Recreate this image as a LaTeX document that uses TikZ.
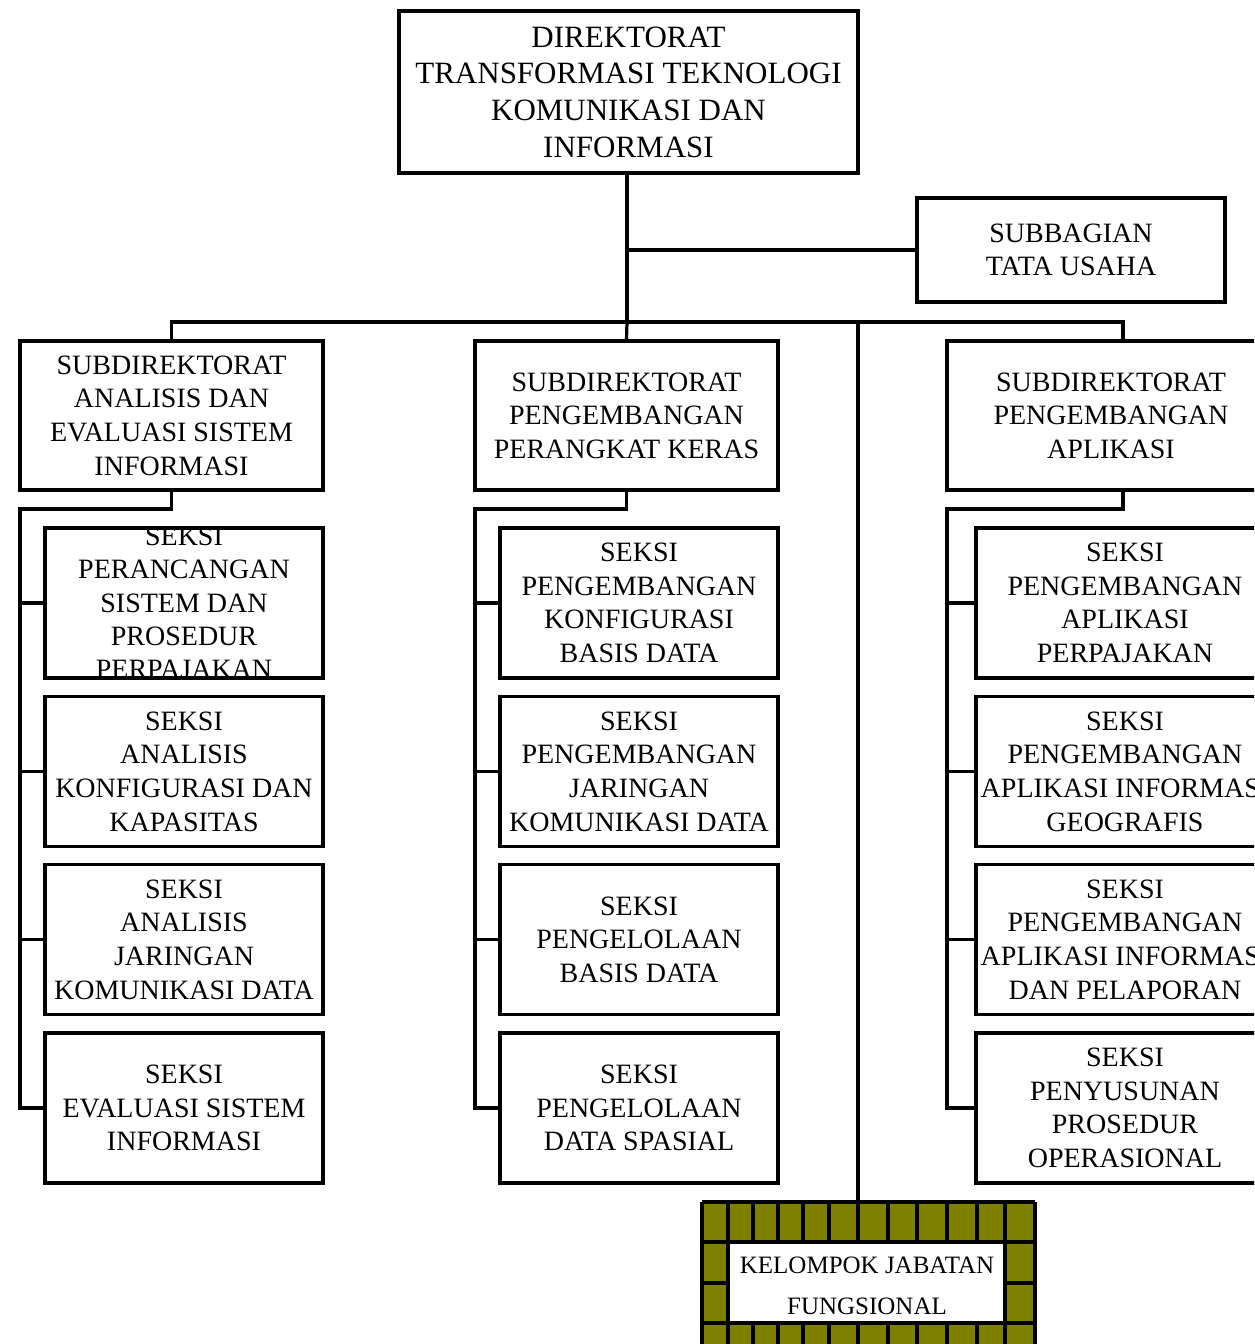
\documentclass[tikz,border=0pt]{standalone}
\usepackage{fontspec}
\setmainfont{Liberation Serif}
\usetikzlibrary{calc}
\definecolor{olive}{HTML}{808000}
\tikzset{
  headbox/.style={draw,line width=3.2pt,minimum width=459pt,minimum height=162pt,inner sep=0pt,align=center,font=\fontsize{31}{36.7}\selectfont},
  unitbox/.style={draw,line width=3.2pt,minimum width=303pt,minimum height=149pt,inner sep=0pt,align=center,font=\fontsize{28}{33.6}\selectfont},
  seksibox/.style={draw,line width=3.2pt,minimum width=278pt,minimum height=150pt,inner sep=0pt,align=center,font=\fontsize{28}{33.6}\selectfont},
  seksitext/.style={inner sep=0pt,align=center,font=\fontsize{28}{33.2}\selectfont},
  conn/.style={line width=3.2pt},
  gridline/.style={line width=3.2pt}
}
\begin{document}
\begin{tikzpicture}[x=1pt,y=-1pt]
\useasboundingbox (0,0) rectangle (1254,1344);
\clip (0,0) rectangle (1254,1344);
% top level
\node[headbox] (dir) at (628.5,92) {DIREKTORAT\\TRANSFORMASI TEKNOLOGI\\KOMUNIKASI DAN\\INFORMASI};
\node[unitbox,minimum width=308pt,minimum height=104pt] (tu) at (1071,250) {SUBBAGIAN\\TATA USAHA};
% subdirektorat
\node[unitbox] (sl) at (171.5,415.5) {SUBDIREKTORAT\\ANALISIS DAN\\EVALUASI SISTEM\\INFORMASI};
\node[unitbox] (sm) at (626.5,415.5) {SUBDIREKTORAT\\PENGEMBANGAN\\PERANGKAT KERAS};
\node[unitbox,minimum width=328pt] (sr) at (1111,415.5) {SUBDIREKTORAT\\PENGEMBANGAN\\APLIKASI};
% seksi, left column
\node[seksibox] (l1) at (184,603) {};
\begin{scope}
\clip (l1.south west) rectangle (l1.north east);
\node[seksitext] at (184,603) {SEKSI\\PERANCANGAN\\SISTEM DAN\\PROSEDUR\\PERPAJAKAN};
\end{scope}
\node[seksibox] (l2) at (184,771.5) {SEKSI\\ANALISIS\\KONFIGURASI DAN\\KAPASITAS};
\node[seksibox] (l3) at (184,939.5) {SEKSI\\ANALISIS\\JARINGAN\\KOMUNIKASI DATA};
\node[seksibox] (l4) at (184,1108) {SEKSI\\EVALUASI SISTEM\\INFORMASI};
% seksi, middle column
\node[seksibox] (m1) at (639,603) {SEKSI\\PENGEMBANGAN\\KONFIGURASI\\BASIS DATA};
\node[seksibox] (m2) at (639,771.5) {SEKSI\\PENGEMBANGAN\\JARINGAN\\KOMUNIKASI DATA};
\node[seksibox] (m3) at (639,939.5) {SEKSI\\PENGELOLAAN\\BASIS DATA};
\node[seksibox] (m4) at (639,1108) {SEKSI\\PENGELOLAAN\\DATA SPASIAL};
% seksi, right column
\node[seksibox,minimum width=298pt] (r1) at (1125,603) {SEKSI\\PENGEMBANGAN\\APLIKASI\\PERPAJAKAN};
\node[seksibox,minimum width=298pt] (r2) at (1125,771.5) {SEKSI\\PENGEMBANGAN\\APLIKASI INFORMASI\\GEOGRAFIS};
\node[seksibox,minimum width=298pt] (r3) at (1125,939.5) {SEKSI\\PENGEMBANGAN\\APLIKASI INFORMASI\\DAN PELAPORAN};
\node[seksibox,minimum width=298pt] (r4) at (1125,1108) {SEKSI\\PENYUSUNAN\\PROSEDUR\\OPERASIONAL};
% kelompok jabatan fungsional
\fill[olive] (702,1202) rectangle (1035,1360);
\fill[white] (728,1242) rectangle (1005,1323);
\foreach \x in {728,753,778,803,829,858,888,917,947,977,1005}{
  \draw[gridline] (\x,1202) -- (\x,1242);
  \draw[gridline] (\x,1323) -- (\x,1360);
}
\draw[gridline] (702,1202) -- (1035,1202);
\draw[gridline] (702,1242) -- (1035,1242);
\draw[gridline] (702,1323) -- (1035,1323);
\draw[gridline] (702,1283) -- (728,1283);
\draw[gridline] (1005,1283) -- (1035,1283);
\draw[gridline] (702,1202) -- (702,1360);
\draw[gridline] (1035,1202) -- (1035,1360);
\draw[gridline] (728,1242) -- (728,1323);
\draw[gridline] (1005,1242) -- (1005,1323);
\node[inner sep=0pt,align=center,font=\fontsize{25}{41}\selectfont] (kjf) at (867,1286) {KELOMPOK JABATAN\\FUNGSIONAL};
% connectors
\coordinate (bus) at (627,322);
\coordinate (rdrop) at (1123,341);
\coordinate (kf) at (858,1202);
\coordinate (lbus) at (20,509);
\coordinate (mbus) at (475,509);
\coordinate (rbus) at (947,509);
\draw[conn] (bus |- dir.south) -- (bus);
\draw[conn] (bus |- tu.west) -- (tu.west);
\draw[conn] (sl.north) |- (bus) -| (rdrop);
\draw[conn] (bus) -- (sm.north);
\draw[conn] (kf |- bus) -- (kf);
\draw[conn] (sl.south) |- (lbus) |- (l4.west);
\draw[conn] (sm.south) |- (mbus) |- (m4.west);
\draw[conn] (rdrop |- sr.south) |- (rbus) |- (r4.west);
\foreach \n in {1,2,3}{
  \draw[conn] (lbus |- l\n.west) -- (l\n.west);
  \draw[conn] (mbus |- m\n.west) -- (m\n.west);
  \draw[conn] (rbus |- r\n.west) -- (r\n.west);
}
\end{tikzpicture}
\end{document}
